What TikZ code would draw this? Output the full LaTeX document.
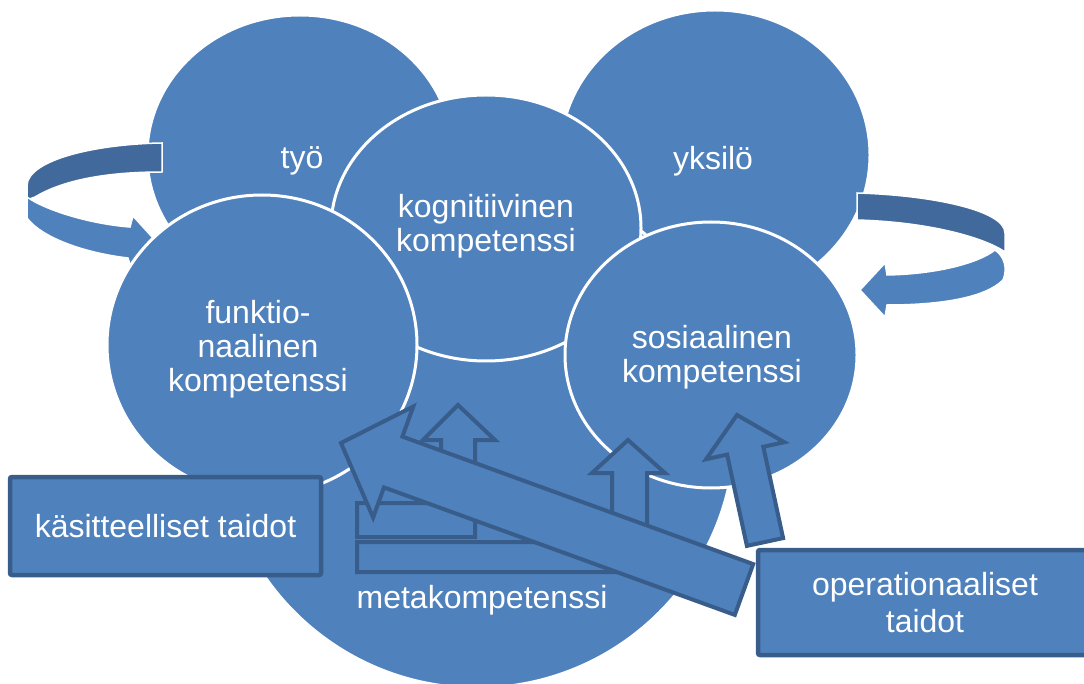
\documentclass[tikz,border=0pt]{standalone}
\usepackage{fontspec}
\setmainfont{Liberation Sans}
\usetikzlibrary{shapes.geometric}

\definecolor{fillblue}{HTML}{4F81BD}
\definecolor{edgeblue}{HTML}{385D8A}
\definecolor{backblue}{HTML}{41699B}

\begin{document}
\begin{tikzpicture}[x=1pt,y=-1pt,
  disc/.style={ellipse, fill=fillblue, draw=white, line width=3pt, inner sep=0pt},
  disctext/.style={text=white, align=center, inner sep=0pt, font=\fontsize{32}{34}\selectfont},
  blockarrow/.style={fill=fillblue, draw=edgeblue, line width=4pt, line join=miter},
  ribbonback/.style={fill=backblue, draw=white, line width=1.5pt},
  ribbonfront/.style={fill=fillblue, draw=white, line width=1.5pt},
  skillbox/.style={rectangle, fill=fillblue, draw=edgeblue, line width=4.5pt,
    rounded corners=2pt, text=white, align=center, inner sep=0pt,
    font=\fontsize{32}{37}\selectfont}
]
\useasboundingbox (0,0) rectangle (1084,684);

% two discs at the back
\node[disc, minimum width=306pt, minimum height=280pt] (work) at (300,155) {};
\node[disc, minimum width=310pt, minimum height=290pt] (person) at (715,155) {};

% left turning ribbon arrow
\path[ribbonback] (162,143) .. controls (95,144) and (27,160) .. (27,186)
  -- (27,200) -- (35,197) .. controls (60,182) and (100,172) .. (162,172) -- cycle;
\path[ribbonfront] (27,197) .. controls (45,210) and (90,224) .. (130,227)
  -- (133,216) -- (153,238) -- (131,268) -- (128,258)
  .. controls (85,253) and (42,238) .. (27,218) -- cycle;

% right turning ribbon arrow
\path[ribbonback] (857,193) .. controls (930,195) and (1005,210) .. (1005,233)
  -- (1005,252) .. controls (985,238) and (930,222) .. (857,220) -- cycle;
\path[ribbonfront] (887,275) .. controls (940,274) and (980,262) .. (995,250)
  .. controls (1004,256) and (1008,268) .. (1003,280)
  .. controls (985,298) and (940,305) .. (887,305)
  -- (885,317) -- (860,290) -- (885,263) -- cycle;

% competence discs
\node[disc, minimum size=516pt] (meta) at (477,430) {};
\node[disc, minimum width=310pt, minimum height=266pt] (cognitive) at (486,228) {};
\node[disc, minimum width=310pt, minimum height=300pt] (functional) at (262,345) {};
\node[disc, minimum width=292pt, minimum height=266pt] (social) at (711,355) {};

% disc labels
\node[disctext] (work-t) at (302,161) {työ};
\node[disctext] (person-t) at (713,161) {yksilö};
\node[disctext] (cognitive-t) at (486,226.5) {kognitiivinen\\kompetenssi};
\node[disctext] (functional-t) at (258,349) {funktio-\\naalinen\\kompetenssi};
\node[disctext] (social-t) at (712,357) {sosiaalinen\\kompetenssi};
\node[disctext] (meta-t) at (482,600) {metakompetenssi};

% bent-up arrows rising from the conceptual side
\path[blockarrow] (357,503) -- (441,503) -- (441,440) -- (423,440) -- (458,405)
  -- (495,440) -- (475,440) -- (475,537) -- (357,537) -- cycle;
\path[blockarrow] (357,542) -- (612,542) -- (612,473) -- (592,473) -- (628,440)
  -- (665,473) -- (647,473) -- (647,572) -- (357,572) -- cycle;

% long diagonal arrow
\path[blockarrow] (341,443) -- (413.3,406.5) -- (402.4,436.6) -- (753.2,564.1)
  -- (734.8,614.9) -- (384,487.4) -- (373.1,517.5) -- cycle;

% short tilted arrow towards the social disc
\path[blockarrow] (746.9,545.9) -- (727.1,454.6) -- (706.1,459.2) -- (737,415)
  -- (784.3,442.2) -- (763.3,446.8) -- (783.1,538.1) -- cycle;

% skill boxes
\node[skillbox, minimum width=311pt, minimum height=98pt] (conceptual) at (165.5,526)
  {käsitteelliset taidot};
\node[skillbox, minimum width=334pt, minimum height=105pt] (operational) at (925,602.5)
  {operationaaliset\\taidot};
\end{tikzpicture}
\end{document}
